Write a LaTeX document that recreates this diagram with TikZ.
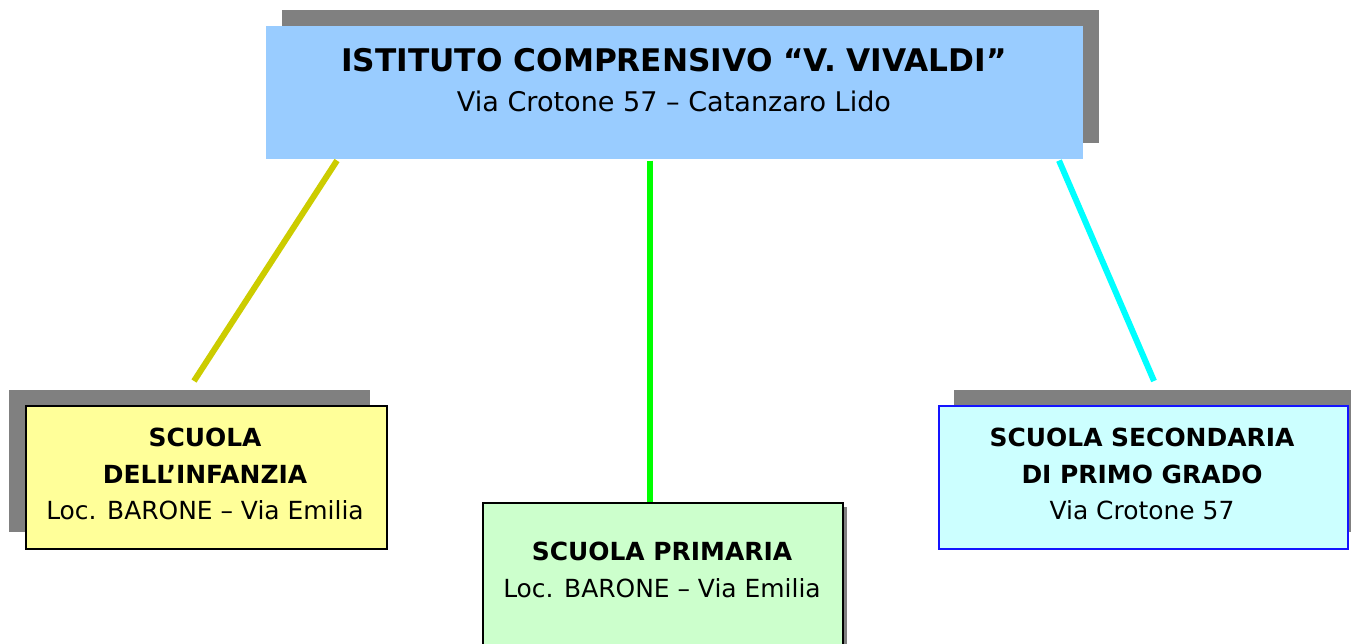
\documentclass[tikz,border=0pt]{standalone}
\usepackage{fontspec}
\setmainfont{DejaVu Sans}
\begin{document}
\begin{tikzpicture}[x=0.75pt,y=-0.75pt,
  shadowbox/.style={fill=shadowgray,draw=none},
  unitbox/.style={draw=black,line width=1.5pt,anchor=north west,inner sep=0pt},
  boxtext/.style={align=center,font=\fontsize{18.7}{27.6}\selectfont,inner sep=0pt},
  link/.style={line width=4.5pt}]
\definecolor{shadowgray}{RGB}{128,128,128}
\definecolor{topblue}{RGB}{153,204,255}
\definecolor{infyellow}{RGB}{255,255,153}
\definecolor{primgreen}{RGB}{204,255,204}
\definecolor{seccyan}{RGB}{204,255,255}
\definecolor{lineyellow}{RGB}{204,204,0}
\definecolor{linegreen}{RGB}{0,255,0}
\definecolor{linecyan}{RGB}{0,255,255}
\definecolor{secborder}{RGB}{20,20,255}
\useasboundingbox (0,0) rectangle (1351,643);
\begin{scope}
\clip (0,0) rectangle (1351,643);
% shadows
\fill[shadowbox] (282,10) rectangle (1099,143);
\fill[shadowbox] (9,390) rectangle (370,532);
\fill[shadowbox] (954,390) rectangle (1365,532);
\fill[shadowbox] (487,507) rectangle (847,660);
% boxes
\node[anchor=north west,fill=topblue,minimum width=817*0.75pt,minimum height=133*0.75pt,inner sep=0pt] (top) at (266,26) {};
\node[unitbox,fill=infyellow,minimum width=361*0.75pt,minimum height=143*0.75pt] (inf) at (25,405) {};
\node[unitbox,fill=primgreen,minimum width=360*0.75pt,minimum height=160*0.75pt] (prim) at (482,502) {};
\node[unitbox,draw=secborder,fill=seccyan,minimum width=409*0.75pt,minimum height=143*0.75pt] (sec) at (938,405) {};
\end{scope}
% texts
\node[inner sep=0pt,font=\bfseries\fontsize{23.4}{26}\selectfont] (toptitle) at (674,60) {ISTITUTO COMPRENSIVO “V. VIVALDI”};
\node[inner sep=0pt,font=\fontsize{20.3}{24}\selectfont] (topsub) at (674,101) {Via Crotone 57 – Catanzaro Lido};
\node[boxtext] (inftext) at (205,474) {\textbf{SCUOLA}\\\textbf{DELL’INFANZIA}\\Loc. BARONE – Via Emilia};
\node[boxtext] (primtext) at (662,570) {\textbf{SCUOLA PRIMARIA}\\Loc. BARONE – Via Emilia};
\node[boxtext] (sectext) at (1142,474) {\textbf{SCUOLA SECONDARIA}\\\textbf{DI PRIMO GRADO}\\Via Crotone 57};
% connectors
\coordinate (infend) at (194,381);
\coordinate (secend) at (1154,381);
\draw[link,lineyellow] (top.south -| 337,0) ++(0,1) -- (infend);
\draw[link,linegreen] (top.south -| 650,0) ++(0,1) -- (prim.north -| 650,0);
\draw[link,linecyan] (top.south -| 1059,0) ++(0,1) -- (secend);
\end{tikzpicture}
\end{document}
